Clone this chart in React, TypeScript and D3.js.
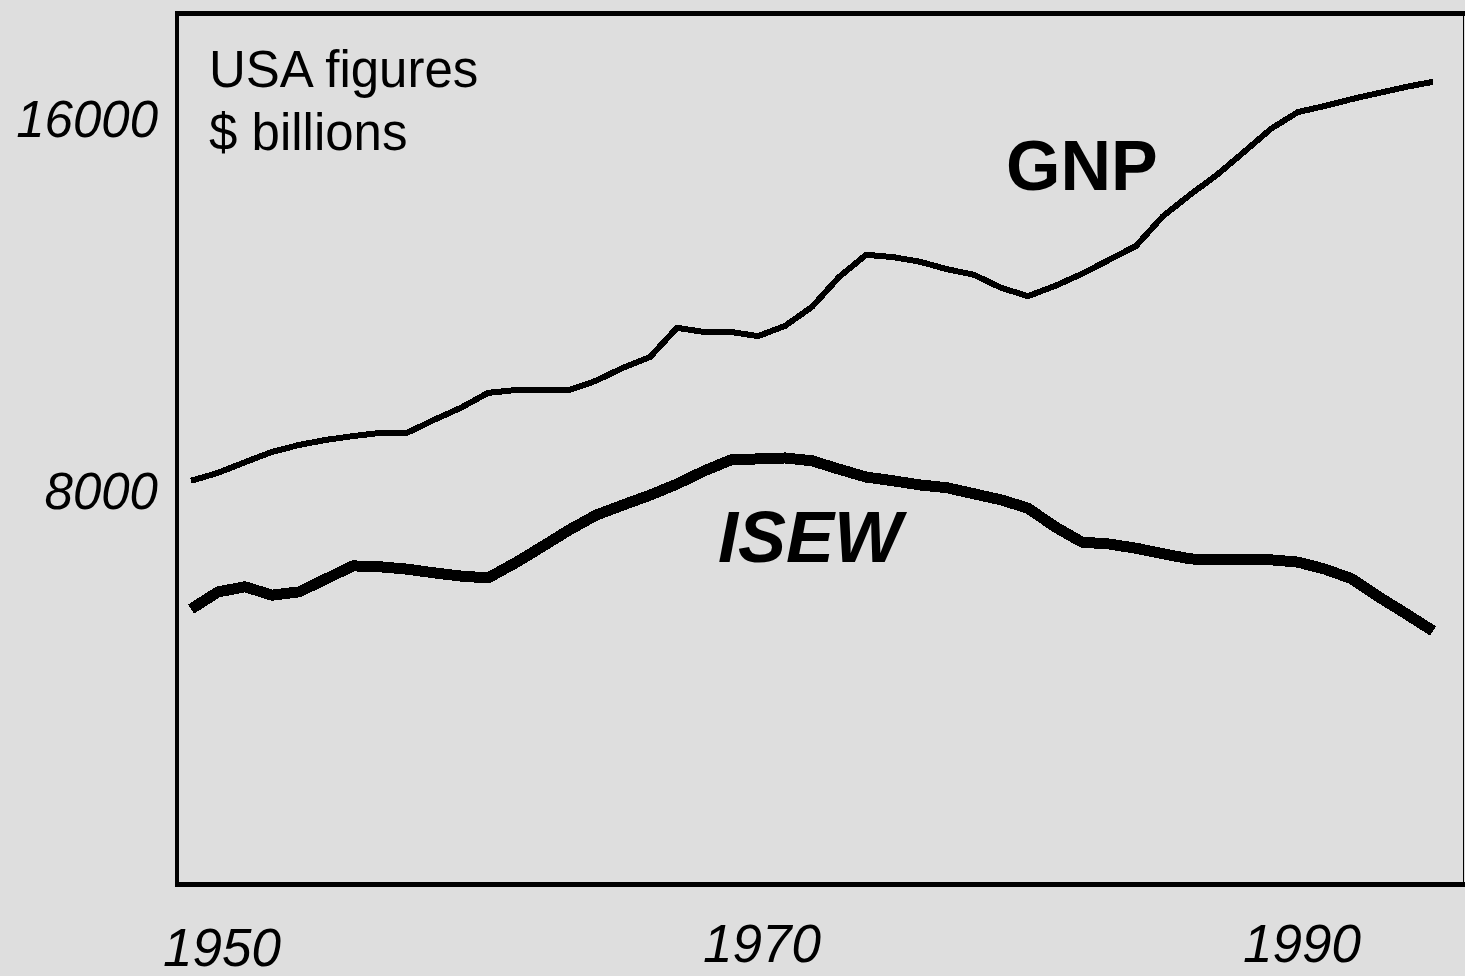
import React, { useEffect, useRef } from 'react';
import * as d3 from 'd3';

// years
const years = d3.range(1949, 1996);

const gnp = [
  8220, 8390, 8620, 8840, 8990, 9100, 9180, 9250, 9250, 9530, 9790, 10110,
  10170, 10170, 10170, 10370, 10650, 10880, 11510, 11420, 11420, 11330, 11550,
  11960, 12600, 13080, 13030, 12930, 12770, 12650, 12370, 12190, 12410, 12670,
  12970, 13270, 13910, 14370, 14800, 15290, 15790, 16150, 16280, 16430, 16560,
  16690, 16800,
];

const isew = [
  5460, 5830, 5940, 5760, 5830, 6110, 6390, 6370, 6320, 6240, 6170, 6130,
  6450, 6800, 7160, 7480, 7700, 7910, 8150, 8430, 8670, 8690, 8710, 8650,
  8470, 8300, 8220, 8130, 8070, 7940, 7810, 7630, 7230, 6900, 6860, 6770,
  6650, 6540, 6520, 6520, 6520, 6470, 6320, 6110, 5720, 5360, 4990,
];

const yTicks = [8000, 16000];
const xTicks = [1950, 1970, 1990];

const W = 1465;
const H = 976;
const BG = '#dedede';
const FONT = 'Liberation Sans, Arial, sans-serif';

const App = () => {
  const svgRef = useRef<SVGSVGElement>(null);

  useEffect(() => {
    const svg = d3.select(svgRef.current);
    svg.selectAll('*').remove();

    const x = d3.scaleLinear().domain([1950, 1990]).range([218, 1298]);
    const y = d3.scaleLinear().domain([8000, 16000]).range([491, 119]);

    svg.append('rect').attr('width', W).attr('height', H).attr('fill', BG);

    // frame: heavy top/left/bottom, hairline on the right
    const frame = svg.append('g').attr('fill', '#000');
    frame.append('rect').attr('x', 175).attr('y', 11).attr('width', W - 175).attr('height', 5);
    frame.append('rect').attr('x', 175).attr('y', 11).attr('width', 4).attr('height', 876);
    frame.append('rect').attr('x', 175).attr('y', 882).attr('width', W - 175).attr('height', 5);
    frame.append('rect').attr('x', 1463).attr('y', 11).attr('width', 1).attr('height', 876);

    const line = d3
      .line<number>()
      .x((_, i) => x(years[i]))
      .y((d) => y(d));

    svg.append('path')
      .attr('d', line(gnp))
      .attr('fill', 'none')
      .attr('stroke', '#000')
      .attr('stroke-width', 6)
      .attr('stroke-linejoin', 'round')
      .attr('shape-rendering', 'crispEdges');

    svg.append('path')
      .attr('d', line(isew))
      .attr('fill', 'none')
      .attr('stroke', '#000')
      .attr('stroke-width', 11)
      .attr('stroke-linejoin', 'round')
      .attr('shape-rendering', 'crispEdges');

    // y tick labels
    svg.append('g')
      .selectAll('text')
      .data(yTicks)
      .enter()
      .append('text')
      .attr('x', 158)
      .attr('y', (d) => y(d) + 18)
      .attr('text-anchor', 'end')
      .attr('font-family', FONT)
      .attr('font-style', 'italic')
      .attr('font-size', 51)
      .text((d) => d);

    // x tick labels
    svg.append('g')
      .selectAll('text')
      .data(xTicks)
      .enter()
      .append('text')
      .attr('x', (d) => x(d) + 4)
      .attr('y', (d, i) => (i === 0 ? 966 : 962))
      .attr('text-anchor', 'middle')
      .attr('font-family', FONT)
      .attr('font-style', 'italic')
      .attr('font-size', 53)
      .text((d) => d);

    const note = svg.append('text')
      .attr('font-family', FONT)
      .attr('font-size', 51)
      .attr('fill', '#000');
    note.append('tspan').attr('x', 209).attr('y', 87).text('USA figures');
    note.append('tspan').attr('x', 209).attr('y', 150).text('$ billions');

    svg.append('text')
      .attr('x', 1006)
      .attr('y', 190)
      .attr('font-family', FONT)
      .attr('font-weight', 'bold')
      .attr('font-size', 70)
      .text('GNP');

    svg.append('text')
      .attr('x', 718)
      .attr('y', 562)
      .attr('font-family', FONT)
      .attr('font-weight', 'bold')
      .attr('font-style', 'italic')
      .attr('font-size', 72)
      .text('ISEW');
  }, []);

  return (
    <svg
      ref={svgRef}
      width={W}
      height={H}
      style={{ position: 'absolute', left: 0, top: 0, display: 'block' }}
    />
  );
};

export default App;
